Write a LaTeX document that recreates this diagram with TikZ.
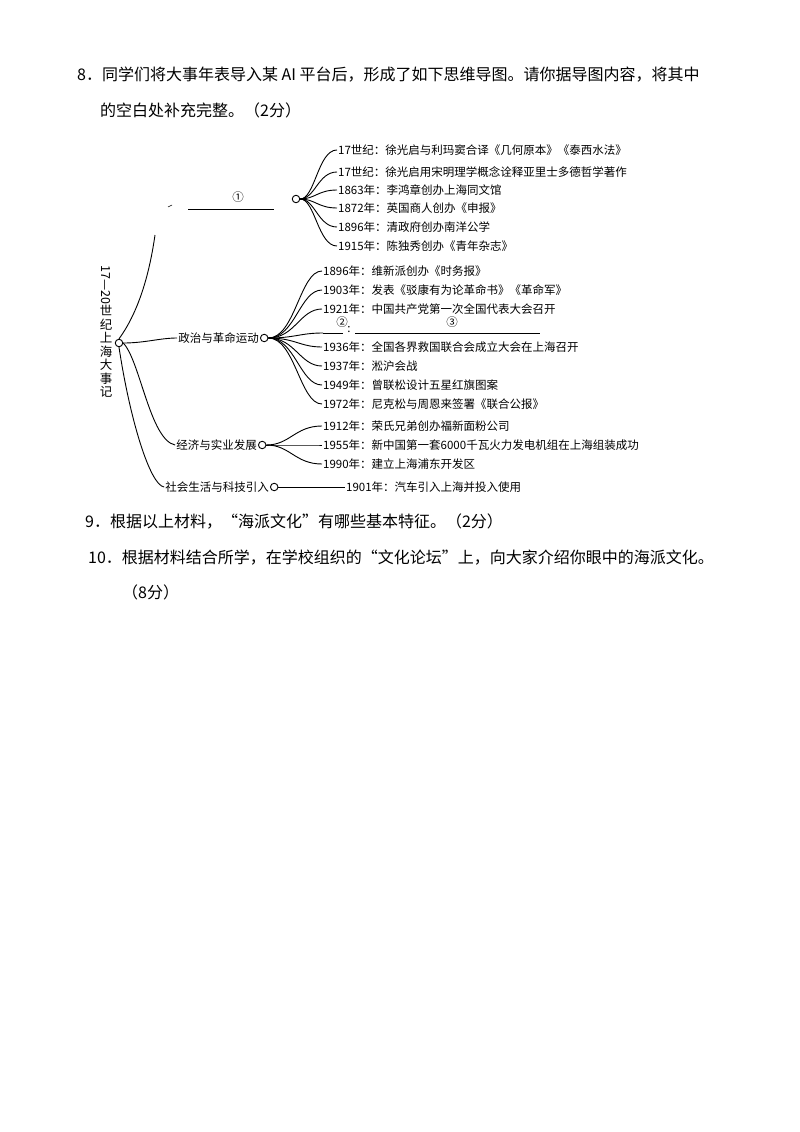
\documentclass[tikz,border=0pt]{standalone}
\usepackage{fontspec}
\setmainfont{Noto Sans CJK SC}
\newfontfamily\cjk{Noto Sans CJK SC}
\begin{document}
\begin{tikzpicture}[x=1pt,y=-1pt,
  leaf/.style={anchor=west,font=\cjk\fontsize{11.5}{12}\selectfont,inner sep=1pt},
  q/.style={anchor=west,font=\cjk\fontsize{16}{18}\selectfont,inner sep=0pt},
  br/.style={font=\cjk\fontsize{11.5}{12}\selectfont,inner sep=1pt},
  hub/.style={circle,draw,fill=white,line width=0.9pt,minimum size=7.5pt,inner sep=0pt},
  con/.style={line width=0.9pt}]
\useasboundingbox (0,0) rectangle (800,1132);
\node[q] (q8a) at (77,75) {8．同学们将大事年表导入某 AI 平台后，形成了如下思维导图。请你据导图内容，将其中};
\node[q] (q8b) at (100,110) {的空白处补充完整。（2分）};
% root
\node[font=\cjk\fontsize{12.5}{12}\selectfont,rotate=-90,anchor=west,inner sep=0pt] (rt1) at (106,265) {17—20};
\node[font=\cjk\fontsize{12.5}{13.5}\selectfont,align=center,anchor=north,inner sep=0pt] (rt2) at (106,305) {世\\纪\\上\\海\\大\\事\\记};
\node[hub] (root) at (119,343) {};
% branch 1
\coordinate (b1s) at (188,209);
\coordinate (b1e) at (274,209);
\node[hub] (h1) at (296,199) {};
\node[br] (c1) at (238,197) {①};
\draw[con] (b1s) -- (b1e);
\draw[con] (root.north) .. controls (140,310) and (150,270) .. (155,235);
\coordinate (tick) at (172,205);
\draw[line width=0.5pt] (tick) -- (168,207);
\foreach \y/\t [count=\i] in {150/17世纪：徐光启与利玛窦合译《几何原本》《泰西水法》,
  172/17世纪：徐光启用宋明理学概念诠释亚里士多德哲学著作,
  190/1863年：李鸿章创办上海同文馆,
  208/1872年：英国商人创办《申报》,
  227/1896年：清政府创办南洋公学,
  246/1915年：陈独秀创办《青年杂志》}{
  \node[leaf] (l1\i) at (337,\y) {\t};
  \draw[con] (h1.east) .. controls (315,199) and (318,\y) .. (l1\i.west);
}
% branch 2
\node[br,anchor=east] (b2) at (260,338) {政治与革命运动};
\node[hub,anchor=west] (h2) at (b2.east) {};
\draw[con] (root.east) .. controls (145,343) and (160,338) .. (b2.west);
\foreach \y/\t [count=\i] in {271/1896年：维新派创办《时务报》,
  290/1903年：发表《驳康有为论革命书》《革命军》,
  309/1921年：中国共产党第一次全国代表大会召开,
  347/1936年：全国各界救国联合会成立大会在上海召开,
  366/1937年：淞沪会战,
  385/1949年：曾联松设计五星红旗图案,
  404/1972年：尼克松与周恩来签署《联合公报》}{
  \node[leaf] (l2\i) at (322,\y) {\t};
  \draw[con] (h2.east) .. controls (295,338) and (300,\y) .. (l2\i.west);
}
\coordinate (bl1) at (323,333);
\coordinate (bl2) at (343,333);
\coordinate (bl3) at (355,333);
\coordinate (bl4) at (540,333);
\draw[con] (bl1) -- (bl2);
\draw[con] (bl3) -- (bl4);
\draw[con] (h2.east) .. controls (295,338) and (300,333) .. (bl1);
\node[br] (c2) at (342,322) {②};
\node[br] (col) at (349,330) {:};
\node[br] (c3) at (452,322) {③};
% branch 3
\node[br,anchor=east] (b3) at (258,445) {经济与实业发展};
\node[hub,anchor=west] (h3) at (b3.east) {};
\draw[con] (root.east) .. controls (140,360) and (150,440) .. (b3.west);
\foreach \y/\t [count=\i] in {426/1912年：荣氏兄弟创办福新面粉公司,
  445/1955年：新中国第一套6000千瓦火力发电机组在上海组装成功,
  464/1990年：建立上海浦东开发区}{
  \node[leaf] (l3\i) at (322,\y) {\t};
  \draw[con] (h3.east) .. controls (290,445) and (295,\y) .. (l3\i.west);
}
% branch 4
\node[br,anchor=east] (b4) at (270,487) {社会生活与科技引入};
\node[hub,anchor=west] (h4) at (b4.east) {};
\draw[con] (root.south) .. controls (130,420) and (150,485) .. (b4.west);
\node[leaf] (l41) at (345,487) {1901年：汽车引入上海并投入使用};
\draw[con] (h4.east) -- (l41.west);
% questions
\node[q] (q9) at (85,522) {9．根据以上材料，“海派文化”有哪些基本特征。（2分）};
\node[q] (q10) at (88,558) {10．根据材料结合所学，在学校组织的“文化论坛”上，向大家介绍你眼中的海派文化。};
\node[q] (q10b) at (122,592) {（8分）};
\end{tikzpicture}
\end{document}
